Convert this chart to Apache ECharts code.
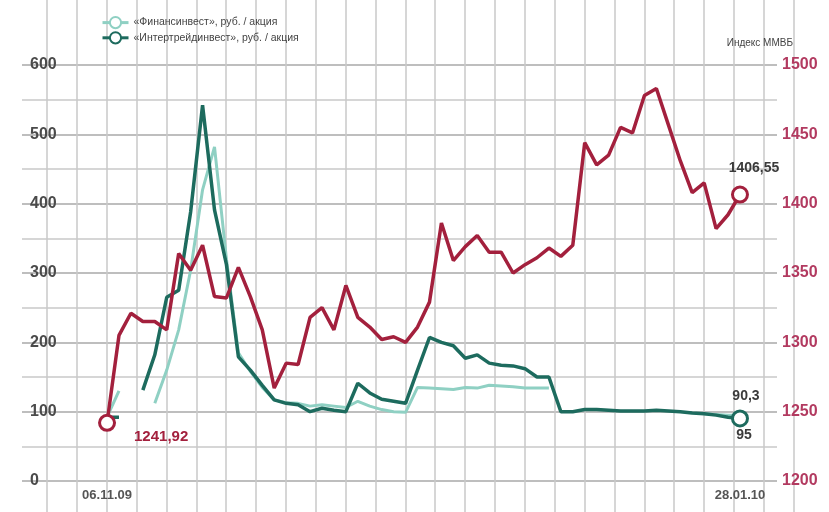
<!DOCTYPE html>
<html>
<head>
<meta charset="utf-8">
<script src="https://cdn.jsdelivr.net/npm/echarts@6/dist/echarts.min.js"></script>
<style>
html,body{margin:0;padding:0;background:#fff;}
#chart{width:829px;height:512px;}
</style>
</head>
<body>
<div id="chart"></div>
<script>
// ---- data ----
const dates = [
 '06.11.09','09.11.09','10.11.09','11.11.09','12.11.09','13.11.09','16.11.09','17.11.09','18.11.09','19.11.09',
 '20.11.09','23.11.09','24.11.09','25.11.09','26.11.09','27.11.09','30.11.09','01.12.09','02.12.09','03.12.09',
 '04.12.09','07.12.09','08.12.09','09.12.09','10.12.09','11.12.09','14.12.09','15.12.09','16.12.09','17.12.09',
 '18.12.09','21.12.09','22.12.09','23.12.09','24.12.09','25.12.09','28.12.09','29.12.09','30.12.09','31.12.09',
 '11.01.10','12.01.10','13.01.10','14.01.10','15.01.10','18.01.10','19.01.10','20.01.10','21.01.10','22.01.10',
 '25.01.10','26.01.10','27.01.10','28.01.10'
];
const micex = [1241.92,1305,1321,1315,1315,1309,1364,1352,1370,1333,1332,1354,1333,1309,1267,1285,1284,1318,1325,1309,
 1341,1318,1311,1302,1304,1300,1311,1329,1386,1359,1369,1377,1365,1365,1350,1356,1361,1368,1362,1370,
 1444,1428,1435,1455,1451,1478,1483,1457,1431,1408,1415,1382,1392,1406.55];
const darkStock = [92,92,null,131,182,265,275,388,542,391,312,179,160,138,117,112,110,100,105,102,
 100,141,127,118,115,112,160,207,200,195,177,182,170,167,166,162,150,150,100,100,
 103,103,102,101,101,101,102,101,100,98,97,95,92,90.3];
const lightStock = [92,130,null,null,112,160,218,304,420,482,320,185,158,135,117,113,112,108,110,108,
 106,115,108,103,100,99,135,134,133,132,135,134,138,137,136,134,134,134,null,null,
 null,null,null,null,null,null,null,null,null,null,97,96,95,95];
const leftTicks = [0,100,200,300,400,500,600];
const rightTicks = [1200,1250,1300,1350,1400,1450,1500];
const nameLight = '«Финансинвест», руб. / акция';
const nameDark = '«Интертрейдинвест», руб. / акция';
const nameIndex = 'Индекс ММВБ';

// ---- styles ----
const RED = '#a3203d', DARK = '#1d6b5e', LIGHT = '#8fd0c3';
const pairs = arr => arr.map((v, i) => [i, v]);
const last = dates.length - 1;
const ring = c => ({color: '#fff', borderColor: c, borderWidth: 3});

const chart = echarts.init(document.getElementById('chart'), null, {renderer: 'canvas'});
const option = {
  animation: false,
  backgroundColor: '#fff',
  textStyle: {fontFamily: 'Liberation Sans, Arial, sans-serif'},
  legend: {
    left: 96, top: 11, orient: 'vertical', itemGap: 2, itemWidth: 26, itemHeight: 14,
    data: [nameLight, nameDark],
    itemStyle: {borderWidth: 3},
    lineStyle: {width: 3},
    textStyle: {fontSize: 10.5, color: '#444', padding: [0, 0, 0, 0]}
  },
  grid: [
    {left: 22, right: 52, top: 65, bottom: 31},
    {left: 47, right: 35.4, top: 0, bottom: 0}
  ],
  xAxis: [
    {
      type: 'value', gridIndex: 0, min: -7.12, max: 56.1,
      splitLine: {show: false}, axisLine: {show: false}, axisTick: {show: false},
      axisLabel: {
        customValues: [0, last],
        formatter: v => dates[Math.round(v)],
        color: '#555', fontSize: 13, fontWeight: 'bold', margin: 8
      }
    },
    {
      type: 'value', gridIndex: 1, min: -5, max: 57.5, interval: 2.5,
      axisLine: {show: false}, axisTick: {show: false}, axisLabel: {show: false},
      splitLine: {show: true, lineStyle: {color: '#c9c9c9', width: 1.5}}
    }
  ],
  yAxis: [
    {
      type: 'value', gridIndex: 0, min: 0, max: 600, interval: 100,
      axisLine: {show: false}, axisTick: {show: false},
      axisLabel: {inside: true, margin: 8, color: '#4a4a4a', fontSize: 16, fontWeight: 'bold',
        customValues: leftTicks, formatter: v => String(v)},
      splitLine: {show: true, lineStyle: {color: '#a9a9a9', width: 1.5}},
      minorTick: {show: false, splitNumber: 2},
      minorSplitLine: {show: true, lineStyle: {color: '#c9c9c9', width: 1.5}}
    },
    {
      type: 'value', gridIndex: 0, position: 'right', min: 1200, max: 1500, interval: 50,
      axisLine: {show: false}, axisTick: {show: false}, splitLine: {show: false},
      axisLabel: {color: '#b23a60', fontSize: 16, fontWeight: 'bold', margin: 5,
        customValues: rightTicks, formatter: v => String(v)},
      name: nameIndex, nameLocation: 'end', nameGap: 17,
      nameTextStyle: {color: '#444', fontSize: 10, align: 'right', padding: [0, -16, 0, 0]}
    },
    {type: 'value', gridIndex: 1, show: false, min: 0, max: 1}
  ],
  series: [
    {
      name: nameLight, type: 'line', xAxisIndex: 0, yAxisIndex: 0,
      data: pairs(lightStock), connectNulls: false,
      symbol: 'emptyCircle', symbolSize: 11, showSymbol: false,
      lineStyle: {color: LIGHT, width: 3}, itemStyle: {color: LIGHT, borderWidth: 3},
      z: 2,
      markPoint: {
        symbol: 'circle', symbolSize: 1, itemStyle: {color: 'rgba(0,0,0,0)'},
        label: {show: true, position: 'bottom', distance: 13, offset: [4, 0],
          color: '#3a3a3a', fontSize: 14, fontWeight: 'bold', formatter: '95'},
        data: [{coord: [last, lightStock[last]]}]
      }
    },
    {
      name: nameDark, type: 'line', xAxisIndex: 0, yAxisIndex: 0,
      data: pairs(darkStock), connectNulls: false,
      symbol: 'emptyCircle', symbolSize: 11, showSymbol: false,
      lineStyle: {color: DARK, width: 3.5}, itemStyle: {color: DARK, borderWidth: 3},
      z: 3,
      markPoint: {
        symbol: 'circle', symbolSize: 15, itemStyle: ring(DARK),
        label: {show: true, position: 'top', distance: 6, offset: [6, 0],
          color: '#3a3a3a', fontSize: 14, fontWeight: 'bold', formatter: '90,3'},
        data: [{coord: [last, darkStock[last]]}]
      }
    },
    {
      name: nameIndex, type: 'line', xAxisIndex: 0, yAxisIndex: 1,
      data: pairs(micex), showSymbol: false, symbol: 'none',
      lineStyle: {color: RED, width: 3.5},
      z: 4,
      markPoint: {
        symbol: 'circle', symbolSize: 15, itemStyle: ring(RED),
        data: [
          {coord: [0, micex[0]], label: {show: true, position: 'right', distance: 18, offset: [0, 14],
            color: RED, fontSize: 15, fontWeight: 'bold', formatter: '1241,92'}},
          {coord: [last, micex[last]], label: {show: true, position: 'top', distance: 10, offset: [14, 0],
            color: '#3a3a3a', fontSize: 14, fontWeight: 'bold', formatter: '1406,55'}}
        ]
      }
    }
  ]
};
chart.setOption(option);
</script>
</body>
</html>
